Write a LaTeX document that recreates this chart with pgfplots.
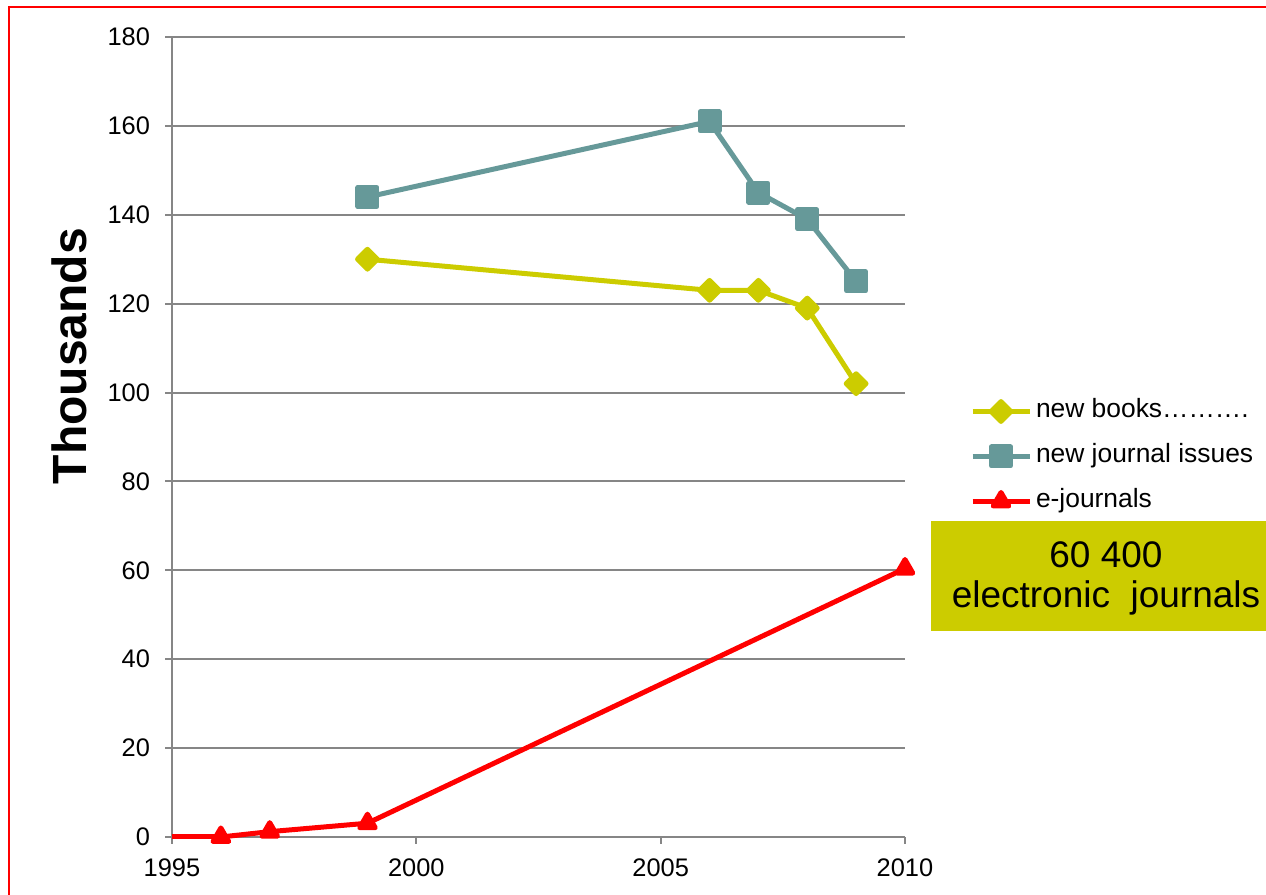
\documentclass[border=0pt]{standalone}
\usepackage{pgfplots}
\pgfplotsset{compat=1.18}
\usepackage{fontspec}
\setmainfont{Liberation Sans}

\definecolor{bookcol}{RGB}{204,204,0}
\definecolor{jourcol}{RGB}{102,153,153}
\definecolor{gridcol}{RGB}{134,134,134}
\definecolor{boxcol}{RGB}{204,204,0}

\begin{document}
\begin{tikzpicture}[x=0.5pt,y=0.5pt]
\path[use as bounding box] (0,0) rectangle (1266,895);
% red frame (open at bottom and right)
\draw[red, line width=1pt] (9,0) -- (9,888) -- (1266,888);

\begin{axis}[
  at={(86pt,29pt)}, anchor=south west,
  scale only axis, width=366.5pt, height=400pt,
  xmin=1995, xmax=2010, ymin=0, ymax=180,
  xtick={1995,2000,2005,2010}, ytick={0,20,...,180},
  axis x line=bottom, axis y line=left,
  axis line style={-, gridcol, line width=1pt},
  ymajorgrids, major grid style={gridcol, line width=1pt},
  tick align=outside, major tick length=3.5pt,
  tick style={gridcol, line width=1pt},
  tick label style={font=\fontsize{12.7}{15}\selectfont, text=black},
  /pgf/number format/assume math mode=true,
  xticklabel style={/pgf/number format/1000 sep={}, yshift=-4pt},
  yticklabel style={xshift=-4pt},
  ylabel={Thousands},
  ylabel style={at={(axis description cs:-0.1405,0.601)}, anchor=center,
    font=\fontsize{24}{28}\selectfont\bfseries},
  clip=false,
  legend style={at={(axis description cs:1.0887,0.5475)}, anchor=north west,
    draw=none, fill=none, inner sep=0pt, outer sep=0pt,
    font=\fontsize{13.2}{15}\selectfont, row sep=10pt,
    nodes={inner xsep=2pt, inner ysep=0pt, text height=9.5pt, text depth=3pt}},
  legend cell align=left,
  legend image code/.code={\draw[#1, mark repeat=2, mark phase=2]
    plot coordinates {(0pt,0pt)(14.25pt,0pt)(28.5pt,0pt)};},
  every axis plot/.append style={line width=2.5pt, line join=round},
]

\addplot[bookcol, mark=square*, mark size=3.5pt, mark options={rotate=45}]
  coordinates {(1999,130) (2006,123) (2007,123) (2008,119) (2009,102)};
\addlegendentry{new books……….}

\addplot[jourcol, mark=square*, mark size=4.75pt]
  coordinates {(1999,144) (2006,161) (2007,145) (2008,139) (2009,125)};
\addlegendentry{new journal issues}

\addplot[red, forget plot] coordinates {(1995,0) (1996,0)};
\addplot[red, mark=triangle*, mark size=4.5pt]
  coordinates {(1996,0) (1997,1.2) (1999,3.1) (2010,60.4)};
\addlegendentry{e-journals}

\end{axis}

% annotation box
\fill[boxcol] (931,264) rectangle (1266,374);
\node[font=\fontsize{18.5}{22}\selectfont] at (1106,340) {60 400};
\node[font=\fontsize{18.5}{22}\selectfont] at (1106,297) {electronic\ \ journals};
\end{tikzpicture}
\end{document}
